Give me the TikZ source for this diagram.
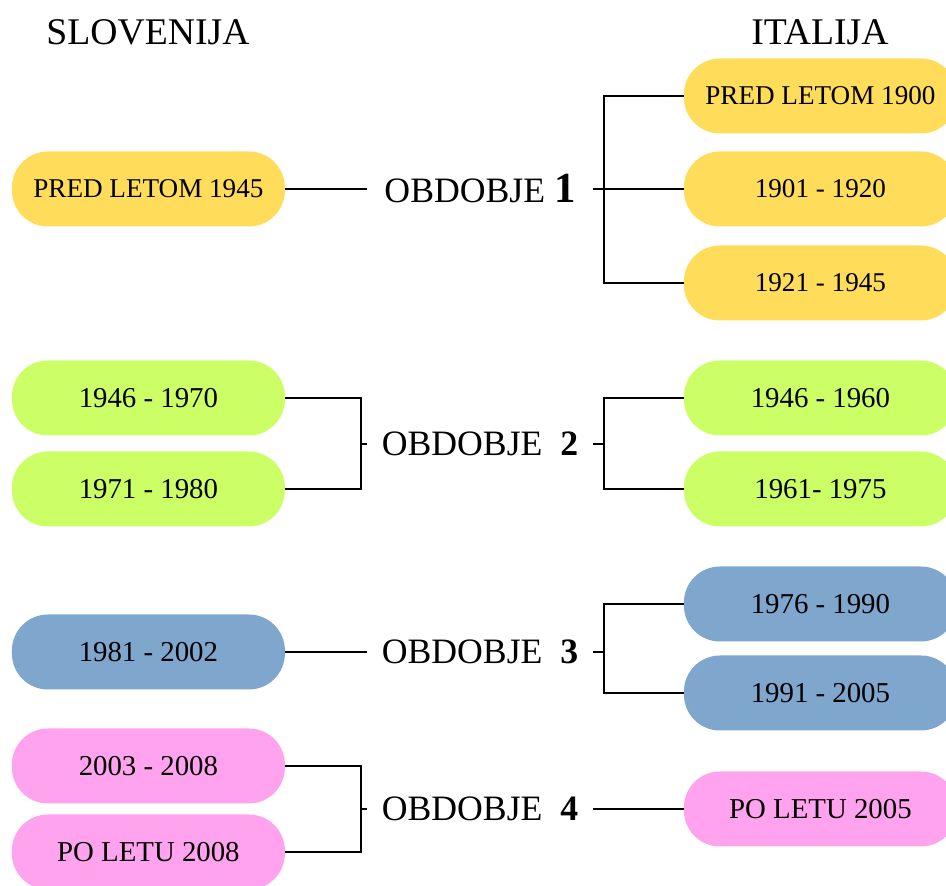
\documentclass[tikz,border=0pt]{standalone}
\usepackage{fontspec}
\setmainfont{Liberation Serif}

\definecolor{perYellow}{HTML}{FFDC5A}
\definecolor{perGreen}{HTML}{CCFF66}
\definecolor{perBlue}{HTML}{7FA6CC}
\definecolor{perPink}{HTML}{FFA3EE}

\begin{document}
\begin{tikzpicture}[
	period/.style={rounded corners=0.9cm, minimum width=6.825cm,
		minimum height=1.875cm, inner sep=0pt,
		font=\fontsize{20.5}{24}\selectfont},
	early/.style={period, fill=perYellow, font=\fontsize{19.3}{22}\selectfont},
	second/.style={period, fill=perGreen},
	third/.style={period, fill=perBlue},
	fourth/.style={period, fill=perPink},
	obd/.style={minimum width=5.625cm, inner sep=0pt,
		font=\fontsize{25.4}{28}\selectfont},
	country/.style={font=\fontsize{26.8}{32}\selectfont},
	link/.style={line width=1.2pt}
]
		\useasboundingbox (0,0) rectangle (23.65,22.15);
		
		\node[country] (slo) at (3.7,21.35) {SLOVENIJA};
		\node[country] (ita) at (20.5,21.35) {ITALIJA};
		
		% obdobje 1
		\node[early] (s1) at (3.71,17.425) {PRED LETOM 1945};
		\node[obd] (o1) at (12,17.425)
			{OBDOBJE \textbf{\fontsize{30.5}{30}\selectfont 1}};
		\node[early] (i1a) at (20.51,19.75) {PRED LETOM 1900};
		\node[early] (i1b) at (20.51,17.425) {1901 - 1920};
		\node[early] (i1c) at (20.51,15.075) {1921 - 1945};
		\coordinate (r1) at (15.1,17.425);
		\draw[link] (s1.east) -- (o1.west);
		\draw[link] (o1.east) -- (r1);
		\draw[link] (i1a.west) -| (r1) |- (i1c.west);
		\draw[link] (r1) -- (i1b.west);
		
		% obdobje 2
		\node[second] (s2a) at (3.71,12.2) {1946 - 1970};
		\node[second] (s2b) at (3.71,9.925) {1971 - 1980};
		\node[obd] (o2) at (12,11.05) {OBDOBJE~~\textbf{2}};
		\node[second] (i2a) at (20.51,12.2) {1946 - 1960};
		\node[second] (i2b) at (20.51,9.925) {1961- 1975};
		\coordinate (l2) at (9.025,11.05);
		\coordinate (r2) at (15.1,11.05);
		\draw[link] (s2a.east) -| (l2) |- (s2b.east);
		\draw[link] (l2) -- (o2.west);
		\draw[link] (o2.east) -- (r2);
		\draw[link] (i2a.west) -| (r2) |- (i2b.west);
		
		% obdobje 3
		\node[third] (s3) at (3.71,5.85) {1981 - 2002};
		\node[obd] (o3) at (12,5.85) {OBDOBJE~~\textbf{3}};
		\node[third] (i3a) at (20.51,7.05) {1976 - 1990};
		\node[third] (i3b) at (20.51,4.825) {1991 - 2005};
		\coordinate (r3) at (15.1,5.85);
		\draw[link] (s3.east) -- (o3.west);
		\draw[link] (o3.east) -- (r3);
		\draw[link] (i3a.west) -| (r3) |- (i3b.west);
		
		% obdobje 4
		\node[fourth] (s4a) at (3.71,3.0) {2003 - 2008};
		\node[fourth] (s4b) at (3.71,0.85) {PO LETU 2008};
		\node[obd] (o4) at (12,1.925) {OBDOBJE~~\textbf{4}};
		\node[fourth] (i4) at (20.51,1.925) {PO LETU 2005};
		\coordinate (l4) at (9.025,1.925);
		\draw[link] (s4a.east) -| (l4) |- (s4b.east);
		\draw[link] (l4) -- (o4.west);
		\draw[link] (o4.east) -- (i4.west);
\end{tikzpicture}
\end{document}
